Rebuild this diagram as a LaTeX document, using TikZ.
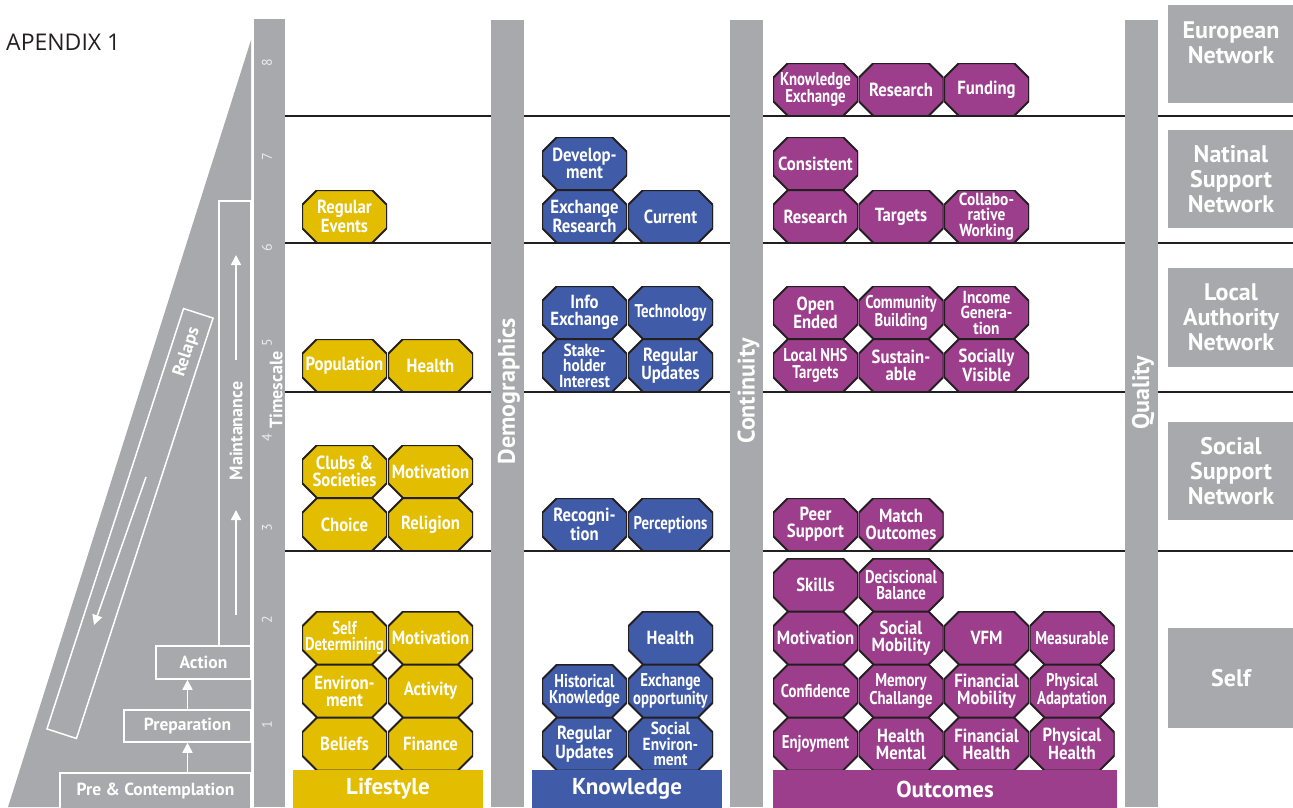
\documentclass[tikz,border=0pt]{standalone}
\usepackage{fontspec}
\setmainfont{PT Sans}
\newfontfamily\condfont[FakeStretch=0.88]{PT Sans}
\newfontfamily\squeezefont[FakeStretch=0.8]{PT Sans}
\newfontfamily\apxfont{Open Sans}
\usetikzlibrary{arrows.meta, positioning}

\definecolor{barGray}{RGB}{167,169,172}
\definecolor{lifeYellow}{RGB}{226,189,0}
\definecolor{knowBlue}{RGB}{64,92,168}
\definecolor{outPurple}{RGB}{156,62,140}
\definecolor{numWhite}{RGB}{236,236,236}
\definecolor{edgeBlack}{RGB}{35,31,32}

\begin{document}
\begin{tikzpicture}[x=1pt, y=-1pt,
  oct/.style={rectangle, minimum width=85pt, minimum height=53pt, inner sep=0pt, align=center, text=white,
    font=\condfont\bfseries\fontsize{19}{17}\selectfont,
    path picture={\filldraw[fill=#1, draw=edgeBlack, line width=2pt]
      ([xshift=15pt]path picture bounding box.north west) -- ([xshift=-15pt]path picture bounding box.north east)
      -- ([yshift=-15pt]path picture bounding box.north east) -- ([yshift=15pt]path picture bounding box.south east)
      -- ([xshift=-15pt]path picture bounding box.south east) -- ([xshift=15pt]path picture bounding box.south west)
      -- ([yshift=15pt]path picture bounding box.south west) -- ([yshift=-15pt]path picture bounding box.north west) -- cycle;}},
  tight/.style={font=\squeezefont\bfseries\fontsize{18.5}{16.5}\selectfont},
  three/.style={font=\condfont\bfseries\fontsize{17.5}{15.5}\selectfont},
  stage/.style={draw=white, line width=1.5pt, fill=barGray, inner sep=0pt, text=white, font=\bfseries\fontsize{17.5}{18}\selectfont},
  flow/.style={-{Triangle[width=10pt, length=10pt]}, white, line width=1.5pt},
  sidelabel/.style={rotate=90, inner sep=0pt, text=white, font=\bfseries\fontsize{18}{18}\selectfont},
  barlabel/.style={rotate=90, inner sep=0pt, text=white, font=\bfseries\fontsize{24}{24}\selectfont},
  tick/.style={rotate=90, inner sep=0pt, text=numWhite, font=\fontsize{14}{14}\selectfont},
  catbar/.style={minimum height=38pt, inner sep=0pt, text=white, font=\bfseries\fontsize{23}{24}\selectfont},
  netbox/.style={fill=barGray, minimum width=126pt, inner sep=0pt, align=center, text=white, font=\bfseries\fontsize{24}{25}\selectfont},
  band/.style={line width=1.8pt, edgeBlack}
]
\useasboundingbox (0,0) rectangle (1293,807);

\node[anchor=west, inner sep=0pt, text=edgeBlack, font=\apxfont\fontsize{23}{24}\selectfont] (title) at (6,42.5) {APENDIX 1};

% stages of change
\fill[barGray] (251,40) -- (8,807) -- (251,807) -- cycle;
\node[stage, minimum width=191pt, minimum height=36pt] (pre) at (155.5,791) {Pre \& Contemplation};
\node[stage, minimum width=127pt, minimum height=32pt] (prep) at (187.5,726) {Preparation};
\node[stage, minimum width=95pt, minimum height=33pt] (action) at (203.5,662.5) {Action};
\node[stage, minimum width=32pt, minimum height=445pt] (maint) at (235,423.5) {};
\node[sidelabel] (maintlabel) at (236,431) {Maintanance};
\node[draw=white, line width=1.5pt, minimum width=442pt, minimum height=31pt, inner sep=0pt, rotate=72] (relaps) at (130,523.5) {};
\node[sidelabel, rotate=-18] (relapslabel) at (187,352) {Relaps};
\coordinate (mLowTail) at (236,615);
\coordinate (mLowTip) at (236,510);
\coordinate (mUpTail) at (236,360);
\coordinate (mUpTip) at (236,255);
\coordinate (rTail) at (146,477);
\coordinate (rTip) at (94,625);
\draw[flow] (pre.north -| prep.south) -- (prep.south);
\draw[flow] (prep.north) -- (prep.north |- action.south);
\draw[flow] (mLowTail) -- (mLowTip);
\draw[flow] (mUpTail) -- (mUpTip);
\draw[flow] (rTail) -- (rTip);

% bands and columns
\draw[band] (285,116) -- (1293,116);
\draw[band] (285,243) -- (1293,243);
\draw[band] (285,392) -- (1293,392);
\draw[band] (285,551) -- (1293,551);
\fill[barGray] (254,19) rectangle (285,807);
\fill[barGray] (491,20) rectangle (524,807);
\fill[barGray] (730,20) rectangle (763,807);
\fill[barGray] (1125,20) rectangle (1158,807);
\node[tick] (t8) at (267,63) {8};
\node[tick] (t7) at (267,157) {7};
\node[tick] (t6) at (267,248) {6};
\node[tick] (t5) at (267,343) {5};
\node[tick] (t4) at (267,438) {4};
\node[tick] (t3) at (267,528) {3};
\node[tick] (t2) at (267,620) {2};
\node[tick] (t1) at (267,725) {1};
\node[sidelabel] (timescale) at (276,390) {Timescale};
\node[barlabel] (demographics) at (509,391) {Demographics};
\node[barlabel] (continuity) at (748.5,391) {Continuity};
\node[barlabel] (quality) at (1143,393) {Quality};

% lifestyle
\node[oct=lifeYellow] (lBeliefs) at (344.5,744) {Beliefs};
\node[oct=lifeYellow] (lFinance) at (430.5,744) {Finance};
\node[oct=lifeYellow] (lEnv) at (344.5,691) {Environ-\\ment};
\node[oct=lifeYellow] (lActivity) at (430.5,691) {Activity};
\node[oct=lifeYellow, tight] (lSelf) at (344.5,638) {Self\\Determining};
\node[oct=lifeYellow] (lMotiv) at (430.5,638) {Motivation};
\node[oct=lifeYellow] (lChoice) at (344.5,524.5) {Choice};
\node[oct=lifeYellow] (lReligion) at (430.5,524.5) {Religion};
\node[oct=lifeYellow] (lClubs) at (344.5,471.5) {Clubs \&\\Societies};
\node[oct=lifeYellow] (lMotiv2) at (430.5,471.5) {Motivation};
\node[oct=lifeYellow] (lPop) at (344.5,365.5) {Population};
\node[oct=lifeYellow] (lHealth) at (430.5,365.5) {Health};
\node[oct=lifeYellow] (lEvents) at (344.5,216.5) {Regular\\Events};

% knowledge
\node[oct=knowBlue] (kUpdates) at (584.5,744) {Regular\\Updates};
\node[oct=knowBlue, three] (kSocial) at (670.5,744) {Social\\Environ-\\ment};
\node[oct=knowBlue, tight] (kHist) at (584.5,691) {Historical\\Knowledge};
\node[oct=knowBlue, tight] (kExch) at (670.5,691) {Exchange\\opportunity};
\node[oct=knowBlue] (kHealth) at (670.5,638) {Health};
\node[oct=knowBlue] (kRecog) at (584.5,524.5) {Recogni-\\tion};
\node[oct=knowBlue, tight] (kPercep) at (670.5,524.5) {Perceptions};
\node[oct=knowBlue, three] (kStake) at (584.5,365.5) {Stake-\\holder\\Interest};
\node[oct=knowBlue] (kUpdates2) at (670.5,365.5) {Regular\\Updates};
\node[oct=knowBlue] (kInfo) at (584.5,312.5) {Info\\Exchange};
\node[oct=knowBlue, tight] (kTech) at (670.5,312.5) {Technology};
\node[oct=knowBlue] (kExRes) at (584.5,216.5) {Exchange\\Research};
\node[oct=knowBlue] (kCurrent) at (670.5,216.5) {Current};
\node[oct=knowBlue] (kDev) at (584.5,163.5) {Develop-\\ment};

% outcomes
\node[oct=outPurple, tight] (oEnjoy) at (815.5,744) {Enjoyment};
\node[oct=outPurple] (oHealthM) at (901,744) {Health\\Mental};
\node[oct=outPurple] (oFinH) at (986.5,744) {Financial\\Health};
\node[oct=outPurple] (oPhysH) at (1072,744) {Physical\\Health};
\node[oct=outPurple, tight] (oConf) at (815.5,691) {Confidence};
\node[oct=outPurple, tight] (oMemory) at (901,691) {Memory\\Challange};
\node[oct=outPurple] (oFinM) at (986.5,691) {Financial\\Mobility};
\node[oct=outPurple, tight] (oPhysA) at (1072,691) {Physical\\Adaptation};
\node[oct=outPurple] (oMotiv) at (815.5,638) {Motivation};
\node[oct=outPurple] (oSocMob) at (901,638) {Social\\Mobility};
\node[oct=outPurple] (oVFM) at (986.5,638) {VFM};
\node[oct=outPurple, tight] (oMeas) at (1072,638) {Measurable};
\node[oct=outPurple] (oSkills) at (815.5,585) {Skills};
\node[oct=outPurple, tight] (oDecis) at (901,585) {Deciscional\\Balance};
\node[oct=outPurple] (oPeer) at (815.5,524.5) {Peer\\Support};
\node[oct=outPurple] (oMatch) at (901,524.5) {Match\\Outcomes};
\node[oct=outPurple, tight] (oNHS) at (815.5,365.5) {Local NHS\\Targets};
\node[oct=outPurple] (oSustain) at (901,365.5) {Sustain-\\able};
\node[oct=outPurple] (oVisible) at (986.5,365.5) {Socially\\Visible};
\node[oct=outPurple] (oOpen) at (815.5,312.5) {Open\\Ended};
\node[oct=outPurple, tight] (oCommunity) at (901,312.5) {Community\\Building};
\node[oct=outPurple, three] (oIncome) at (986.5,312.5) {Income\\Genera-\\tion};
\node[oct=outPurple] (oResearch) at (815.5,216.5) {Research};
\node[oct=outPurple] (oTargets) at (901,216.5) {Targets};
\node[oct=outPurple, three] (oCollab) at (986.5,216.5) {Collabo-\\rative\\Working};
\node[oct=outPurple] (oConsistent) at (815.5,163.5) {Consistent};
\node[oct=outPurple, tight] (oKnowEx) at (815.5,89.5) {Knowledge\\Exchange};
\node[oct=outPurple] (oResearch2) at (901,89.5) {Research};
\node[oct=outPurple] (oFunding) at (986.5,89.5) {Funding};

\node[catbar, fill=lifeYellow, minimum width=190pt] (lifestyle) at (388,789) {Lifestyle};
\node[catbar, fill=knowBlue, minimum width=190pt] (knowledge) at (627,789) {Knowledge};
\node[catbar, fill=outPurple, minimum width=344pt] (outcomes) at (945,789) {Outcomes};

% networks
\node[netbox, minimum height=98pt] (european) at (1231,54) {};
\node[inner sep=0pt, align=center, text=white, font=\bfseries\fontsize{24}{25}\selectfont] (europeanlabel) at (1231,43) {European\\Network};
\node[netbox, minimum height=98pt] (national) at (1231,179) {Natinal\\Support\\Network};
\node[netbox, minimum height=99pt] (local) at (1231,317.5) {Local\\Authority\\Network};
\node[netbox, minimum height=98pt] (social) at (1231,471) {Social\\Support\\Network};
\node[netbox, minimum height=100pt] (self) at (1231,678) {Self};
\end{tikzpicture}
\end{document}
